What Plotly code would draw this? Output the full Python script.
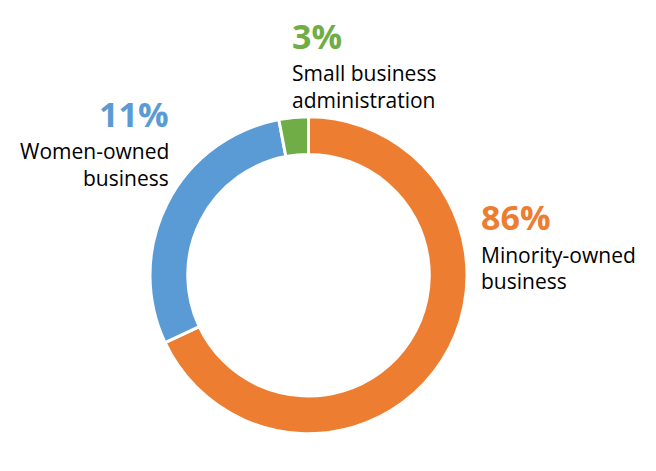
import plotly.graph_objects as go

# ---- data ----
categories = ["Minority-owned business", "Women-owned business", "Small business administration"]
values = [68, 29, 3]          # slice sizes as drawn in the reference ring
pct_labels = ["86%", "11%", "3%"]   # label text as printed in the reference
label_lines = [["Minority-owned", "business"], ["Women-owned", "business"], ["Small business", "administration"]]
colors = ["#ED7D31", "#5B9BD5", "#70AD47"]

W, H = 656, 471
OFF = 8  # browser default body margin
FONT = "Open Sans"

# ---- layout constants (page pixels) ----
cx, cy, r = 308.5, 275.2, 158.5
# (x, xanchor, pct baseline, first line baseline)
label_pos = [
    (478.5, "left", 228.8, 262.2),
    (171.0, "right", 126.2, 158.8),
    (290.0, "left", 48.2, 80.5),
]
PCT_SIZE = 34
LBL_SIZE = 21
LINE_GAP = 26.7


def xp(px):
    return (px - OFF) / W


def yp(py):
    return 1 - (py - OFF) / H


fig = go.Figure(go.Pie(
    labels=categories,
    values=values,
    hole=0.762,
    sort=False,
    direction="clockwise",
    rotation=0,
    textinfo="none",
    hoverinfo="label+percent",
    marker=dict(colors=colors, line=dict(color="white", width=3)),
    domain=dict(x=[xp(cx - r), xp(cx + r)], y=[yp(cy + r), yp(cy - r)]),
    showlegend=False,
))

annotations = []
for i, (x, xa, pb, lb) in enumerate(label_pos):
    annotations.append(dict(
        x=xp(x), y=yp(pb - 0.36 * PCT_SIZE), xref="paper", yref="paper",
        text="<b>%s</b>" % pct_labels[i], showarrow=False, xanchor=xa, yanchor="middle",
        font=dict(family=FONT, size=PCT_SIZE, color=colors[i]),
    ))
    for j, line in enumerate(label_lines[i]):
        annotations.append(dict(
            x=xp(x), y=yp(lb + j * LINE_GAP - 0.36 * LBL_SIZE), xref="paper", yref="paper",
            text=line, showarrow=False, xanchor=xa, yanchor="middle",
            font=dict(family=FONT, size=LBL_SIZE, color="#000000"),
        ))

fig.update_layout(
    width=W, height=H,
    margin=dict(l=0, r=0, t=0, b=0),
    paper_bgcolor="white", plot_bgcolor="white",
    annotations=annotations,
)

fig.write_html("out.html")
